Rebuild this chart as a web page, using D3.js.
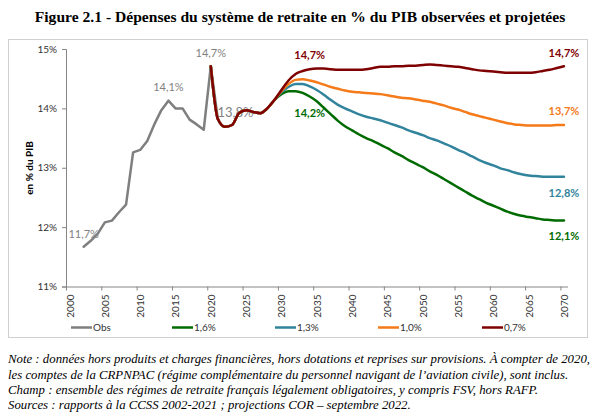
<!DOCTYPE html>
<html><head><meta charset="utf-8">
<script src="https://cdn.jsdelivr.net/npm/d3@7"></script>
<style>
html,body{margin:0;padding:0;background:#fff;}
svg{display:block;}
</style>
</head><body>
<svg id="c" width="600" height="420"></svg>
<script>
// ---- data ----
const obsYears = d3.range(2002, 2022);
const obsValues = [11.67, 11.77, 11.89, 12.08, 12.11, 12.25, 12.38, 13.26, 13.30, 13.45,
                   13.73, 13.97, 14.13, 14.00, 14.00, 13.81, 13.73, 13.64, 14.71, 13.82];
const projYears = d3.range(2020, 2071);
const commonStart = [14.71, 13.82, 13.69, 13.72, 13.92, 13.97, 13.94, 13.92, 14.00, 14.14];
const g16 = commonStart.concat([14.24, 14.29, 14.29, 14.26, 14.20, 14.12, 14.01, 13.90, 13.79, 13.70,
  13.63, 13.56, 13.50, 13.45, 13.39, 13.33, 13.26, 13.20, 13.13, 13.07,
  13.01, 12.94, 12.88, 12.81, 12.74, 12.67, 12.60, 12.53, 12.47, 12.41,
  12.36, 12.31, 12.26, 12.22, 12.19, 12.17, 12.15, 12.13, 12.12, 12.11, 12.11]);
const g13 = commonStart.concat([14.27, 14.36, 14.41, 14.41, 14.37, 14.31, 14.23, 14.14, 14.06, 14.00,
  13.95, 13.90, 13.86, 13.83, 13.80, 13.76, 13.72, 13.68, 13.63, 13.59,
  13.55, 13.50, 13.46, 13.41, 13.36, 13.30, 13.25, 13.19, 13.13, 13.08,
  13.04, 12.99, 12.96, 12.92, 12.89, 12.87, 12.86, 12.85, 12.85, 12.85, 12.85]);
const g10 = commonStart.concat([14.29, 14.41, 14.48, 14.49, 14.47, 14.44, 14.40, 14.36, 14.33, 14.30,
  14.28, 14.27, 14.26, 14.25, 14.24, 14.22, 14.20, 14.18, 14.17, 14.15,
  14.13, 14.11, 14.08, 14.05, 14.01, 13.98, 13.94, 13.90, 13.87, 13.84,
  13.81, 13.78, 13.75, 13.73, 13.72, 13.71, 13.71, 13.71, 13.71, 13.72, 13.72]);
const g07 = commonStart.concat([14.31, 14.47, 14.58, 14.63, 14.66, 14.67, 14.67, 14.66, 14.65, 14.65,
  14.65, 14.65, 14.66, 14.68, 14.70, 14.70, 14.71, 14.71, 14.72, 14.72,
  14.73, 14.74, 14.73, 14.72, 14.71, 14.70, 14.68, 14.66, 14.64, 14.63,
  14.62, 14.61, 14.60, 14.60, 14.60, 14.60, 14.61, 14.63, 14.65, 14.68, 14.71]);
const seriesNames = ["Obs", "1,6%", "1,3%", "1,0%", "0,7%"];
const seriesColors = ["#7f7f7f", "#006b00", "#31849b", "#f47a1a", "#7f0000"];
const yTicks = [11, 12, 13, 14, 15];
const xTicks = d3.range(2000, 2071, 5);

const svg = d3.select("#c");
svg.append("rect").attr("width", 600).attr("height", 420).attr("fill", "#fff");

// title
svg.append("text").attr("x", 300).attr("y", 22).attr("text-anchor", "middle")
  .attr("font-family", "Liberation Serif").attr("font-weight", "bold").attr("font-size", 15.6)
  .attr("fill", "#000")
  .text("Figure 2.1 - Dépenses du système de retraite en % du PIB observées et projetées");

// frame
svg.append("rect").attr("x", 8.5).attr("y", 39.5).attr("width", 579).attr("height", 298)
  .attr("fill", "none").attr("stroke", "#d0d0d0").attr("stroke-width", 1);

const x = d3.scaleLinear().domain([2000, 2071]).range([66, 567.5]);
const px = yr => x(yr + 0.5);
const y = d3.scaleLinear().domain([11, 15]).range([286.5, 49]);

const font = "Lato, 'Open Sans', sans-serif";

// y axis
const yAxis = svg.append("g").attr("transform", "translate(66,0)")
  .call(d3.axisLeft(y).tickValues(yTicks).tickSize(4).tickFormat(d => d + "%"));
yAxis.select(".domain").attr("stroke", "#868686");
yAxis.selectAll(".tick line").attr("stroke", "#868686");
yAxis.selectAll("text").attr("font-family", font).attr("font-size", 10).attr("fill", "#333").attr("x", -9);

// x axis
const xAxis = svg.append("g").attr("transform", "translate(0,286.5)")
  .call(d3.axisBottom(x).tickValues(xTicks).tickSize(4).tickSizeOuter(0).tickFormat(d => d));
xAxis.select(".domain").attr("stroke", "#868686");
xAxis.selectAll(".tick line").attr("stroke", "#868686");
xAxis.selectAll(".tick text")
  .attr("font-family", font).attr("font-size", 10).attr("fill", "#333")
  .attr("text-anchor", "end").attr("dy", "0.35em")
  .attr("transform", "translate(" + (x(2000.5) - x(2000)) + ",0) rotate(-90)")
  .attr("x", -8).attr("y", 0);

// y title
svg.append("text").attr("transform", "translate(33,168) rotate(-90)")
  .attr("text-anchor", "middle").attr("font-family", font).attr("font-weight", "bold")
  .attr("font-size", 10).attr("fill", "#000").text("en % du PIB");

// label drawn under the lines
svg.append("text").attr("x", px(2023.5)).attr("y", 117).attr("text-anchor", "middle")
  .attr("font-family", font).attr("font-size", 13).attr("fill", seriesColors[0]).text("13,8%");

// lines
const lineStraight = d3.line().x(d => px(d[0])).y(d => y(d[1]));
const lineSmooth = d3.line().x(d => px(d[0])).y(d => y(d[1])).curve(d3.curveMonotoneX);
const allSeries = [
  {vals: obsValues, yrs: obsYears, gen: lineStraight},
  {vals: g16, yrs: projYears, gen: lineSmooth},
  {vals: g13, yrs: projYears, gen: lineSmooth},
  {vals: g10, yrs: projYears, gen: lineSmooth},
  {vals: g07, yrs: projYears, gen: lineSmooth}
];
allSeries.forEach((s, i) => {
  svg.append("path").datum(s.yrs.map((yr, j) => [yr, s.vals[j]]))
    .attr("d", s.gen).attr("fill", "none").attr("stroke", seriesColors[i])
    .attr("stroke-width", 2.5).attr("stroke-linejoin", "round").attr("stroke-linecap", "round");
});

// data labels
const labels = [
  {t: "11,7%", yr: 2002, yy: 238, c: seriesColors[0], b: false},
  {t: "14,1%", yr: 2014, yy: 91, c: seriesColors[0], b: false},
  {t: "14,7%", yr: 2020, yy: 57, c: seriesColors[0], b: false},
  {t: "14,7%", yr: 2034, yy: 59, c: seriesColors[4], b: true},
  {t: "14,2%", yr: 2034, yy: 117, c: seriesColors[1], b: true},
  {t: "14,7%", yr: 2070, yy: 56.5, c: seriesColors[4], b: true},
  {t: "13,7%", yr: 2070, yy: 115, c: seriesColors[3], b: true},
  {t: "12,8%", yr: 2070, yy: 196.5, c: seriesColors[2], b: true},
  {t: "12,1%", yr: 2070, yy: 239.5, c: seriesColors[1], b: true}
];
labels.forEach(l => {
  svg.append("text").attr("x", px(l.yr)).attr("y", l.yy).attr("text-anchor", "middle")
    .attr("font-family", font).attr("font-size", 11).attr("font-weight", l.b ? "bold" : "normal")
    .attr("fill", l.c).text(l.t);
});

// legend
const legX = [71, 172, 275, 378, 482];
seriesNames.forEach((n, i) => {
  const g = svg.append("g").attr("transform", "translate(" + legX[i] + ",327.5)");
  g.append("line").attr("x1", 0).attr("x2", 21).attr("stroke", seriesColors[i]).attr("stroke-width", 2.5);
  g.append("text").attr("x", 22).attr("dy", "0.35em").attr("font-family", font)
    .attr("font-size", 10).attr("fill", "#333").text(n);
});

// notes
const notes = [
  "Note : données hors produits et charges financières, hors dotations et reprises sur provisions. À compter de 2020,",
  "les comptes de la CRPNPAC (régime complémentaire du personnel navigant de l’aviation civile), sont inclus.",
  "Champ : ensemble des régimes de retraite français légalement obligatoires, y compris FSV, hors RAFP.",
  "Sources : rapports à la CCSS 2002-2021 ; projections COR – septembre 2022."
];
const noteY = [363, 379, 394, 409];
notes.forEach((t, i) => {
  svg.append("text").attr("x", 8).attr("y", noteY[i]).attr("font-family", "Liberation Serif")
    .attr("font-style", "italic").attr("font-size", 12.8).attr("fill", "#000").text(t);
});
</script>
</body></html>
